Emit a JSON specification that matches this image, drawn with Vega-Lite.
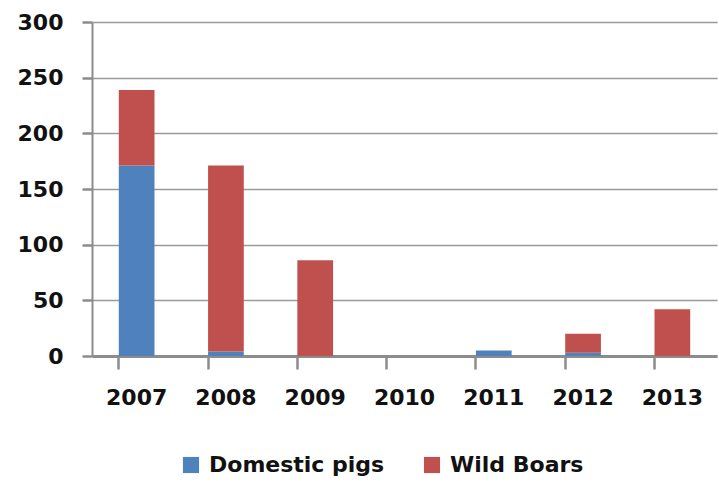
{
  "$schema": "https://vega.github.io/schema/vega-lite/v6.json",
  "width": 625,
  "height": 334,
  "autosize": "none",
  "padding": {"left": 92, "top": 22, "right": 2, "bottom": 133},
  "background": "white",
  "data": {
    "values": [
      {"year": "2007", "type": "Domestic pigs", "value": 171},
      {"year": "2007", "type": "Wild Boars", "value": 68},
      {"year": "2008", "type": "Domestic pigs", "value": 4},
      {"year": "2008", "type": "Wild Boars", "value": 167},
      {"year": "2009", "type": "Domestic pigs", "value": 0},
      {"year": "2009", "type": "Wild Boars", "value": 86},
      {"year": "2010", "type": "Domestic pigs", "value": 0},
      {"year": "2010", "type": "Wild Boars", "value": 0},
      {"year": "2011", "type": "Domestic pigs", "value": 5},
      {"year": "2011", "type": "Wild Boars", "value": 0},
      {"year": "2012", "type": "Domestic pigs", "value": 3},
      {"year": "2012", "type": "Wild Boars", "value": 17},
      {"year": "2013", "type": "Domestic pigs", "value": 0},
      {"year": "2013", "type": "Wild Boars", "value": 42}
    ]
  },
  "mark": {"type": "bar"},
  "encoding": {
    "x": {
      "field": "year",
      "type": "nominal",
      "scale": {"paddingInner": 0.6, "paddingOuter": 0.3},
      "axis": {
        "title": null,
        "labelAngle": 0,
        "bandPosition": 0,
        "ticks": true,
        "tickSize": 13,
        "tickWidth": 2.5,
        "tickColor": "#8c8c8c",
        "domainColor": "#8c8c8c",
        "domainWidth": 3,
        "labelPadding": 18,
        "labelFont": "DejaVu Sans",
        "labelFontWeight": "bold",
        "labelFontSize": 22,
        "labelColor": "#111111",
        "grid": false
      }
    },
    "y": {
      "field": "value",
      "type": "quantitative",
      "stack": "zero",
      "scale": {"domain": [0, 300]},
      "axis": {
        "title": null,
        "values": [0, 50, 100, 150, 200, 250, 300],
        "tickSize": 10,
        "tickWidth": 2.5,
        "tickColor": "#8c8c8c",
        "domainColor": "#8c8c8c",
        "domainWidth": 2,
        "labelPadding": 19,
        "labelFont": "DejaVu Sans",
        "labelFontWeight": "bold",
        "labelFontSize": 22,
        "labelColor": "#111111",
        "grid": true,
        "gridColor": "#9a9a9a",
        "gridWidth": 1.5
      }
    },
    "order": {"field": "type", "sort": "ascending"},
    "color": {
      "field": "type",
      "type": "nominal",
      "scale": {"domain": ["Domestic pigs", "Wild Boars"], "range": ["#4F81BD", "#C0504D"]},
      "legend": {
        "title": null,
        "orient": "none",
        "legendX": 88,
        "legendY": 432,
        "direction": "horizontal",
        "symbolType": "square",
        "symbolSize": 260,
        "symbolStrokeWidth": 0,
        "labelFont": "DejaVu Sans",
        "labelFontWeight": "bold",
        "labelFontSize": 22,
        "labelColor": "#111111",
        "labelLimit": 400,
        "columnPadding": 36,
        "labelOffset": 7
      }
    }
  },
  "config": {"view": {"stroke": null}}
}
